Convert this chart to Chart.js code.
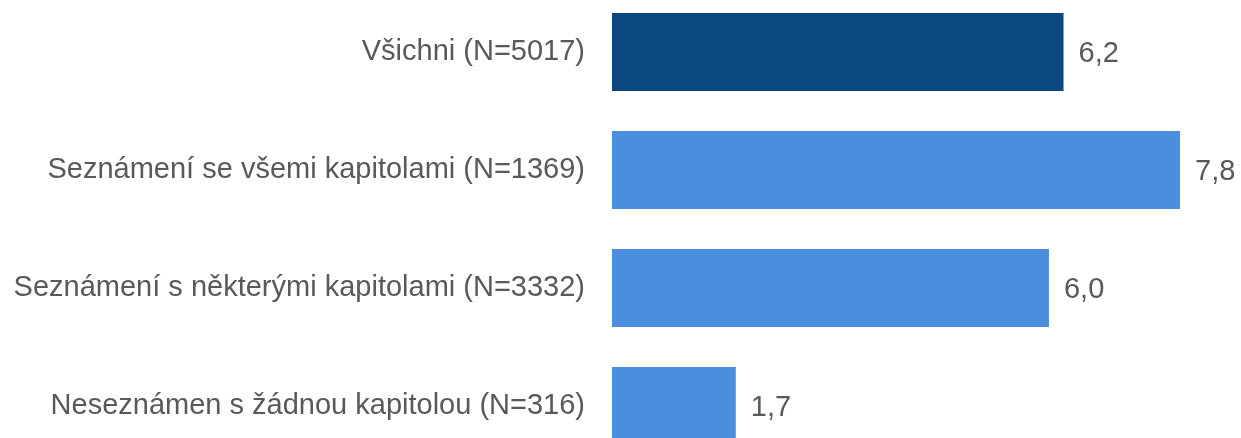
<!DOCTYPE html>
<html>
<head>
<meta charset="utf-8">
<script src="https://cdn.jsdelivr.net/npm/chart.js@4"></script>
<style>
  html, body { margin: 0; padding: 0; background: #fff; overflow: hidden; }
  #chart { position: absolute; left: 0; top: -7px; }
</style>
</head>
<body>
<canvas id="chart" width="1241" height="472"></canvas>
<script>
const categories = [
  'Všichni (N=5017)',
  'Seznámení se všemi kapitolami (N=1369)',
  'Seznámení s některými kapitolami (N=3332)',
  'Neseznámen s žádnou kapitolou (N=316)'
];
const values = [6.2, 7.8, 6.0, 1.7];
const barColors = ['#0B4882', '#4A8EDD', '#4A8EDD', '#4A8EDD'];

const FONT = "'Liberation Sans', Arial, sans-serif";

// value labels at the end of each bar
const valueLabels = {
  id: 'valueLabels',
  afterDatasetsDraw(chart) {
    const ctx = chart.ctx;
    const meta = chart.getDatasetMeta(0);
    ctx.save();
    ctx.font = '29px ' + FONT;
    ctx.fillStyle = '#595959';
    ctx.textAlign = 'left';
    ctx.textBaseline = 'middle';
    meta.data.forEach((bar, i) => {
      const txt = values[i].toFixed(1).replace('.', ',');
      ctx.fillText(txt, bar.x + 15, bar.y + 2);
    });
    ctx.restore();
  }
};

new Chart(document.getElementById('chart'), {
  type: 'bar',
  data: {
    labels: categories,
    datasets: [{
      data: values,
      backgroundColor: barColors,
      borderWidth: 0,
      categoryPercentage: 1,
      barPercentage: 0.661
    }]
  },
  options: {
    indexAxis: 'y',
    responsive: false,
    animation: false,
    layout: { padding: { left: 0, right: 10, top: 0, bottom: 0 } },
    plugins: {
      legend: { display: false },
      tooltip: { enabled: false }
    },
    scales: {
      x: {
        display: false,
        min: 0,
        max: 8.5
      },
      y: {
        grid: { display: false, drawTicks: false },
        border: { display: false },
        ticks: {
          color: '#595959',
          padding: 27,
          font: { size: 29, family: FONT }
        },
        afterFit(scale) {
          scale.width = 612;
          scale.paddingTop = 0;
          scale.paddingBottom = 0;
        }
      }
    }
  },
  plugins: [valueLabels]
});
</script>
</body>
</html>
